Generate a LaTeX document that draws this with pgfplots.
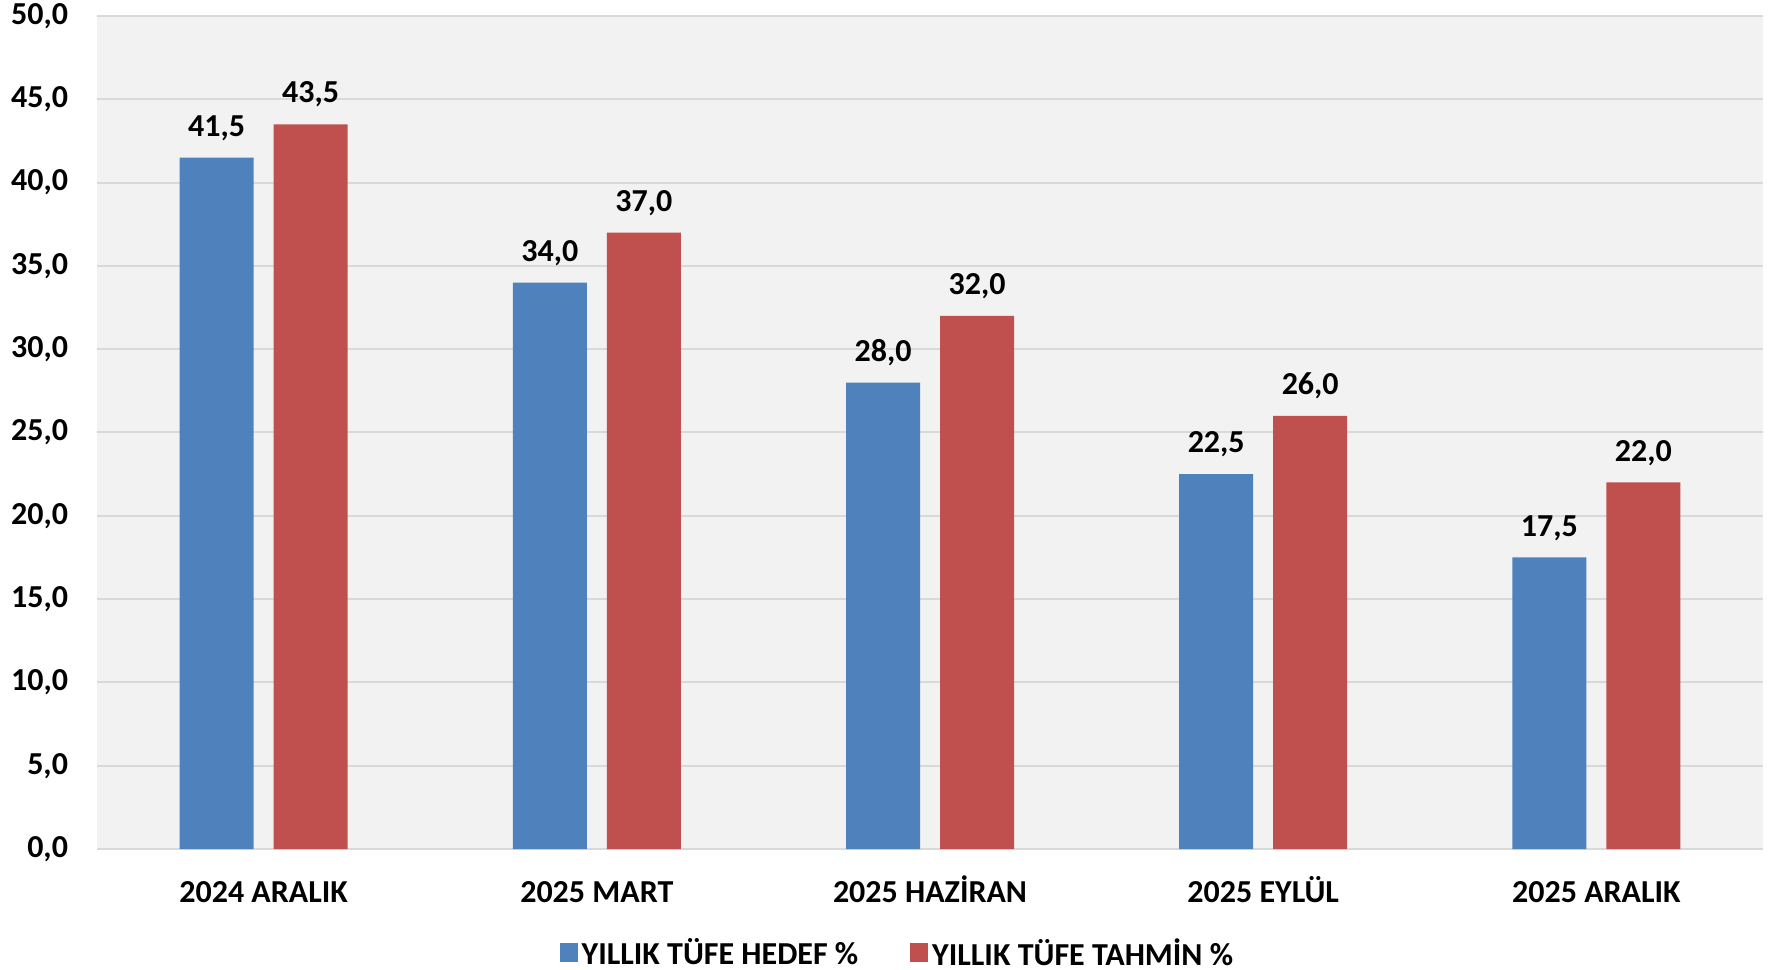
\documentclass[border=0pt]{standalone}
\usepackage{fontspec}
\setmainfont{Carlito}
\usepackage{pgfplots}
\pgfplotsset{compat=1.18}

\definecolor{hedef}{HTML}{4F81BD}
\definecolor{tahmin}{HTML}{C0504D}
\definecolor{plotbg}{HTML}{F2F2F2}
\definecolor{gridc}{HTML}{D9D9D9}

\begin{document}
\begin{tikzpicture}[font=\bfseries\fontsize{16bp}{19bp}\selectfont]
\begin{axis}[
    scale only axis,
    width=833bp, height=416.5bp,
    ybar=10bp, bar width=37bp,
    xmin=-0.5, xmax=4.5,
    ymin=0, ymax=50,
    xtick=data,
    xticklabels={2024 ARALIK, 2025 MART, 2025 HAZİRAN, 2025 EYLÜL, 2025 ARALIK},
    ytick={0,5,...,50},
    tick style={draw=none},
    axis line style={draw=none},
    axis background/.style={fill=plotbg},
    ymajorgrids=true,
    grid style={gridc, line width=1bp},
    /pgf/number format/assume math mode=true,
    /pgf/number format/.cd, fixed, fixed zerofill, precision=1, use comma,
    /pgfplots/.cd,
    yticklabel style={xshift=-11bp},
    xticklabel style={anchor=base, yshift=-22.5bp},
    nodes near coords,
    nodes near coords style={yshift=5bp},
    legend image code/.code={\fill[#1] (0bp,-4.5bp) rectangle (9bp,5bp);},
    legend style={draw=none, fill=none, legend columns=2,
        at={(0.481,-0.125)}, anchor=center,
        /tikz/every even column/.append style={column sep=24bp},
        nodes={inner sep=2bp}},
]
\addplot[fill=hedef, draw=none] coordinates {(0,41.5) (1,34.0) (2,28.0) (3,22.5) (4,17.5)};
\addlegendentry{YILLIK TÜFE HEDEF \%}
\addplot[fill=tahmin, draw=none] coordinates {(0,43.5) (1,37.0) (2,32.0) (3,26.0) (4,22.0)};
\addlegendentry{YILLIK TÜFE TAHMİN \%}
\coordinate (bl) at (rel axis cs:0,0);
\coordinate (tr) at (rel axis cs:1,1);
\end{axis}
\pgfresetboundingbox
\path[use as bounding box] ([xshift=-48.5bp,yshift=-60.5bp]bl) rectangle ([xshift=7bp,yshift=8bp]tr);
\end{tikzpicture}
\end{document}
